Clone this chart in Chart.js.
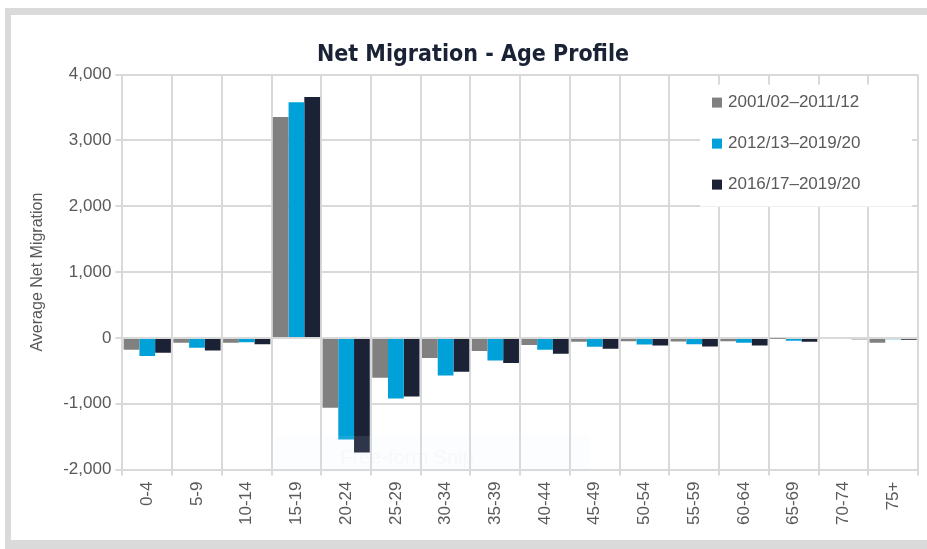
<!DOCTYPE html>
<html lang="en">
<head>
    <meta charset="UTF-8">
    <title>Net Migration - Age Profile</title>
    <style>
        html, body { margin: 0; padding: 0; background: #fff; }
        #wrap { position: absolute; left: 0; top: 0; width: 927px; height: 549px; }
    </style>
    <script src="https://cdn.jsdelivr.net/npm/chart.js"></script>
</head>
<body>
    <div id="wrap"><canvas id="myChart" width="927" height="549"></canvas></div>
    <script>
        // age groups
        const ageGroups = ['0-4', '5-9', '10-14', '15-19', '20-24', '25-29', '30-34', '35-39',
            '40-44', '45-49', '50-54', '55-59', '60-64', '65-69', '70-74', '75+'];

        // average net migration per period
        const period1 = [-180, -75, -75, 3355, -1060, -605, -305, -200, -110, -60, -50, -55, -50, -5, 0, -75];
        const period2 = [-275, -150, -65, 3580, -1545, -920, -570, -345, -180, -135, -100, -95, -75, -45, 0, -20];
        const period3 = [-225, -190, -95, 3660, -1740, -890, -515, -380, -240, -165, -115, -130, -115, -60, -20, -30];

        const seriesNames = ['2001/02\u20132011/12', '2012/13\u20132019/20', '2016/17\u20132019/20'];
        const seriesColors = ['#808080', '#00a0d8', '#1b2236'];

        const yTicks = [-2000, -1000, 0, 1000, 2000, 3000, 4000];

        // grey frame of the screenshot + the faint snip overlay
        const framePlugin = {
            id: 'frame',
            beforeDraw(chart) {
                const c = chart.ctx;
                c.save();
                c.fillStyle = '#fff';
                c.fillRect(0, 0, chart.width, chart.height);
                c.fillStyle = '#dadada';
                c.fillRect(5, 8, chart.width - 5, 7);
                c.fillRect(5, 8, 6, 537);
                c.fillRect(5, 540, chart.width - 5, 9);
                c.restore();
            },
            afterDatasetsDraw(chart) {
                const c = chart.ctx;
                c.save();
                c.fillStyle = 'rgba(225,235,250,0.10)';
                c.fillRect(275, 436, 315, 36);
                c.fillStyle = 'rgba(220,228,240,0.18)';
                c.font = '20px "Liberation Sans", Arial, sans-serif';
                c.textAlign = 'center';
                c.textBaseline = 'middle';
                c.fillText('Free-form Snip', 407, 458);
                c.restore();
            }
        };

        // legend drawn inside plot area, top right
        const insideLegend = {
            id: 'insideLegend',
            afterDraw(chart) {
                const c = chart.ctx;
                const area = chart.chartArea;
                const x0 = area.right - 218, y0 = area.top + 10;
                c.save();
                c.fillStyle = '#fff';
                c.fillRect(x0, y0, 212, 122);
                c.font = '17px "Liberation Sans", Arial, sans-serif';
                c.textBaseline = 'middle';
                seriesNames.forEach((name, i) => {
                    const y = y0 + 18 + i * 41;
                    c.fillStyle = seriesColors[i];
                    c.fillRect(x0 + 12, y - 5, 10, 10);
                    c.fillStyle = '#595959';
                    c.fillText(name, x0 + 28, y);
                });
                c.restore();
            }
        };

        const datasets = [period1, period2, period3].map((vals, i) => ({
            label: seriesNames[i],
            data: vals,
            backgroundColor: seriesColors[i],
            categoryPercentage: 0.95,
            barPercentage: 1.0
        }));

        const ctx = document.getElementById('myChart').getContext('2d');
        new Chart(ctx, {
            type: 'bar',
            data: { labels: ageGroups, datasets: datasets },
            options: {
                responsive: false,
                animation: false,
                layout: { padding: { top: 41, right: 9, bottom: 18, left: 28 } },
                scales: {
                    x: {
                        grid: { color: '#d9d9d9', lineWidth: 2, offset: true, tickLength: 6 },
                        border: { color: '#d9d9d9', width: 2 },
                        ticks: {
                            color: '#595959',
                            font: { family: 'Liberation Sans', size: 17 },
                            minRotation: 90,
                            maxRotation: 90,
                            padding: 6
                        }
                    },
                    y: {
                        min: -2000,
                        max: 4000,
                        afterBuildTicks(axis) {
                            axis.ticks = yTicks.map(v => ({ value: v }));
                        },
                        grid: { color: '#d9d9d9', lineWidth: 2, tickLength: 7 },
                        border: { display: false },
                        ticks: {
                            color: '#595959',
                            font: { family: 'Liberation Sans', size: 17 },
                            padding: 4,
                            callback: v => v.toLocaleString('en-US')
                        },
                        title: {
                            display: true,
                            text: 'Average Net Migration',
                            color: '#595959',
                            font: { family: 'Liberation Sans', size: 16 },
                            padding: { top: 0, bottom: 12 }
                        }
                    }
                },
                plugins: {
                    legend: { display: false },
                    tooltip: { enabled: false },
                    title: {
                        display: true,
                        text: 'Net Migration - Age Profile',
                        color: '#1a2235',
                        font: { family: 'Liberation Sans Narrow, DejaVu Sans Condensed', size: 23, weight: 'bold' },
                        padding: { top: 0, bottom: 6 }
                    }
                }
            },
            plugins: [framePlugin, insideLegend]
        });
    </script>
</body>
</html>
